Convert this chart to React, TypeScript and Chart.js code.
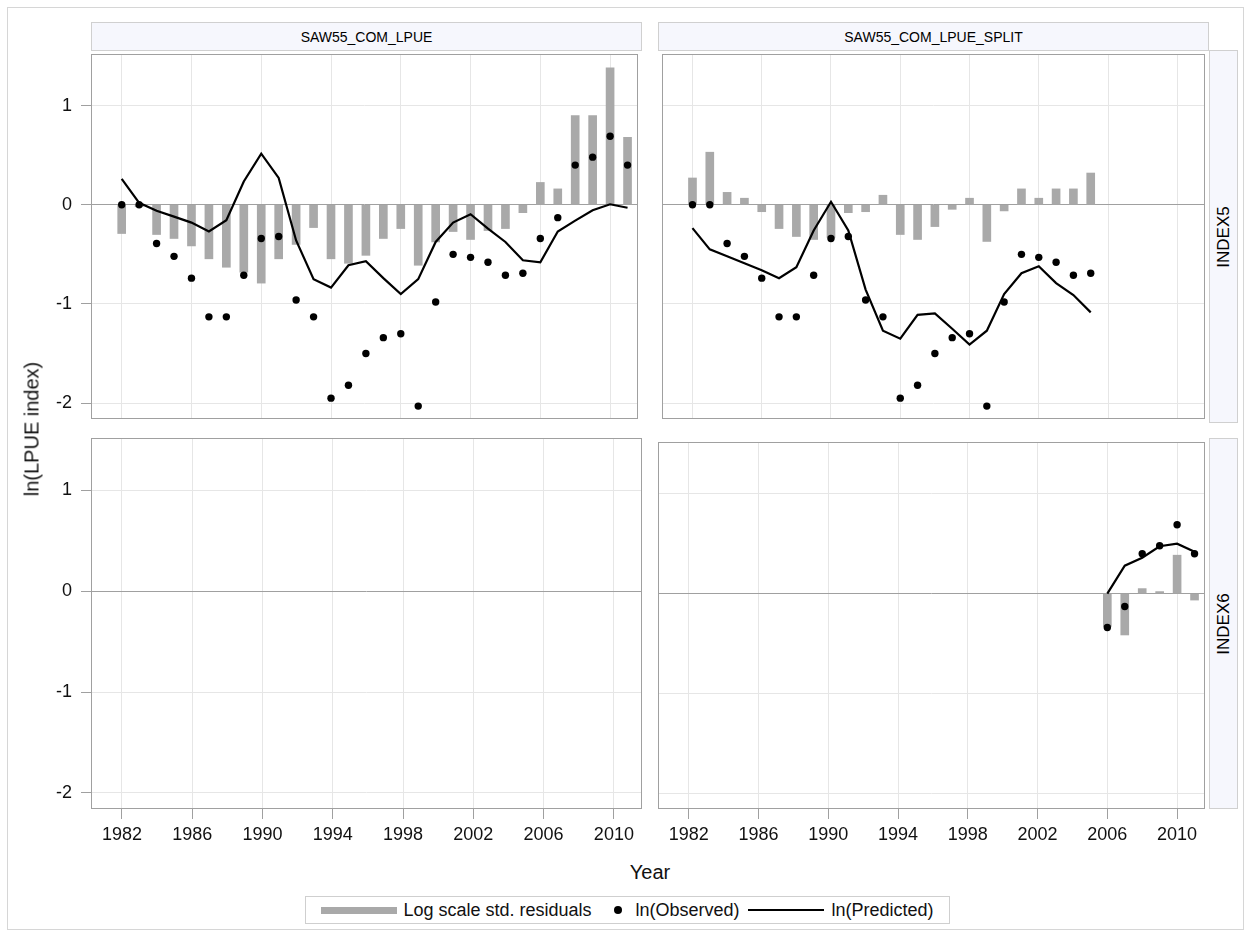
import React, { useEffect, useRef } from "react";
import { Chart, registerables } from "chart.js";

Chart.register(...registerables);

const FONT = "'Liberation Sans', Arial, sans-serif";

// ---------- data ----------
const yearsAll = [
  1982, 1983, 1984, 1985, 1986, 1987, 1988, 1989, 1990, 1991,
  1992, 1993, 1994, 1995, 1996, 1997, 1998, 1999, 2000, 2001,
  2002, 2003, 2004, 2005, 2006, 2007, 2008, 2009, 2010, 2011,
];
const obsLPUE = [
  0.0, 0.0, -0.39, -0.52, -0.74, -1.13, -1.13, -0.71, -0.34, -0.32,
  -0.96, -1.13, -1.95, -1.82, -1.5, -1.34, -1.3, -2.03, -0.98, -0.5,
  -0.53, -0.58, -0.71, -0.69, -0.34, -0.13, 0.4, 0.48, 0.69, 0.4,
];
const predLPUE = [
  0.26, 0.02, -0.06, -0.12, -0.18, -0.27, -0.155, 0.235, 0.515, 0.27,
  -0.36, -0.75, -0.835, -0.61, -0.57, -0.74, -0.9, -0.75, -0.375, -0.18,
  -0.095, -0.24, -0.375, -0.56, -0.58, -0.27, -0.16, -0.055, 0.005, -0.03,
];
const residLPUE = [
  -0.29, -0.02, -0.3, -0.34, -0.415, -0.545, -0.63, -0.68, -0.79, -0.545,
  -0.4, -0.23, -0.545, -0.59, -0.51, -0.34, -0.24, -0.61, -0.375, -0.27,
  -0.35, -0.26, -0.24, -0.08, 0.225, 0.16, 0.9, 0.9, 1.38, 0.68,
];

const yearsSplit5 = [
  1982, 1983, 1984, 1985, 1986, 1987, 1988, 1989, 1990, 1991,
  1992, 1993, 1994, 1995, 1996, 1997, 1998, 1999, 2000, 2001,
  2002, 2003, 2004, 2005,
];
const obsSplit5 = [
  0.0, 0.0, -0.39, -0.52, -0.74, -1.13, -1.13, -0.71, -0.34, -0.32,
  -0.96, -1.13, -1.95, -1.82, -1.5, -1.34, -1.3, -2.03, -0.98, -0.5,
  -0.53, -0.58, -0.71, -0.69,
];
const predSplit5 = [
  -0.235, -0.45, -0.52, -0.59, -0.66, -0.74, -0.63, -0.26, 0.03, -0.26,
  -0.855, -1.27, -1.35, -1.11, -1.095, -1.25, -1.41, -1.27, -0.9, -0.69,
  -0.62, -0.79, -0.91, -1.085,
];
const residSplit5 = [
  0.27, 0.53, 0.125, 0.066, -0.07, -0.24, -0.32, -0.35, -0.33, -0.08,
  -0.07, 0.096, -0.3, -0.35, -0.22, -0.046, 0.066, -0.37, -0.062, 0.16,
  0.066, 0.16, 0.16, 0.32,
];

const yearsSplit6 = [2006, 2007, 2008, 2009, 2010, 2011];
const obsSplit6 = [-0.34, -0.13, 0.4, 0.48, 0.69, 0.4];
const predSplit6 = [0.0, 0.28, 0.36, 0.475, 0.5, 0.42];
const residSplit6 = [-0.33, -0.415, 0.05, 0.02, 0.385, -0.065];

const xTickYears = [1982, 1986, 1990, 1994, 1998, 2002, 2006, 2010];
const yTickValues = [-2, -1, 0, 1];

const columnTitles = ["SAW55_COM_LPUE", "SAW55_COM_LPUE_SPLIT"];
const rowTitles = ["INDEX5", "INDEX6"];
const legendLabels = ["Log scale std. residuals", "ln(Observed)", "ln(Predicted)"];
const xAxisTitle = "Year";
const yAxisTitle = "ln(LPUE index)";

const X_MIN = 1980.24;
const X_MAX = 2011.6;
const Y_MIN = -2.16;
const Y_MAX = 1.52;

// ---------- styles ----------
const BAR_COLOR = "#a9a9a9";
const GRID_COLOR = "#e6e6e6";
const FRAME_COLOR = "#a0a0a0";
const HEADER_BG = "#f6f7fd";
const HEADER_BORDER = "#d0d0d0";
const CLEAR = "rgba(0,0,0,0)";

const framePlugin = {
  id: "frame",
  beforeDatasetsDraw(chart: any) {
    const { ctx, chartArea: a } = chart;
    ctx.save();
    ctx.strokeStyle = FRAME_COLOR;
    ctx.lineWidth = 1;
    ctx.strokeRect(a.left + 0.5, a.top + 0.5, a.right - a.left - 1, a.bottom - a.top - 1);
    ctx.restore();
  },
};

function zeroPad(s: any) {
  s.paddingTop = 0;
  s.paddingBottom = 0;
  s.paddingLeft = 0;
  s.paddingRight = 0;
}

type PanelProps = {
  left: number;
  top: number;
  width: number;
  height: number;
  yAxisW: number;
  xAxisH: number;
  hideY?: boolean;
  years?: number[];
  obs?: number[];
  pred?: number[];
  resid?: number[];
};

function Panel(p: PanelProps) {
  const ref = useRef<HTMLCanvasElement | null>(null);
  useEffect(() => {
    if (!ref.current) return;
    const datasets: any[] = [];
    if (p.years && p.obs && p.pred && p.resid) {
      const yrs = p.years;
      datasets.push({
        type: "bar",
        label: legendLabels[0],
        data: yrs.map((x, i) => ({ x, y: p.resid![i] })),
        backgroundColor: BAR_COLOR,
        borderWidth: 0,
        barThickness: 8,
        grouped: false,
        order: 3,
      });
      datasets.push({
        type: "line",
        label: legendLabels[2],
        data: yrs.map((x, i) => ({ x, y: p.pred![i] })),
        borderColor: "#000",
        borderWidth: 2.2,
        pointRadius: 0,
        tension: 0,
        fill: false,
        order: 2,
      });
      datasets.push({
        type: "line",
        label: legendLabels[1],
        data: yrs.map((x, i) => ({ x, y: p.obs![i] })),
        showLine: false,
        pointRadius: 3.7,
        pointBackgroundColor: "#000",
        pointBorderColor: "#000",
        pointBorderWidth: 0,
        order: 1,
      });
    }
    const showX = p.xAxisH > 0;
    const showY = p.yAxisW > 0;
    const hideY = !!p.hideY;
    const chart = new Chart(ref.current, {
      type: "bar",
      data: { datasets },
      options: {
        animation: false,
        responsive: false,
        maintainAspectRatio: false,
        layout: { padding: 0 },
        plugins: { legend: { display: false }, tooltip: { enabled: false } },
        scales: {
          x: {
            type: "linear",
            min: X_MIN,
            max: X_MAX,
            offset: false,
            afterBuildTicks: (s: any) => {
              s.ticks = xTickYears.map((v) => ({ value: v }));
            },
            afterFit: (s: any) => {
              s.height = p.xAxisH;
              zeroPad(s);
            },
            grid: {
              offset: false,
              color: GRID_COLOR,
              drawTicks: showX,
              tickLength: 10,
              tickColor: FRAME_COLOR,
            },
            border: { display: false },
            ticks: {
              display: showX,
              autoSkip: false,
              maxRotation: 0,
              padding: 5,
              color: "#111",
              font: { family: FONT, size: 18 },
              callback: (v: any) => String(v),
            },
          },
          y: {
            type: "linear",
            min: Y_MIN,
            max: Y_MAX,
            afterBuildTicks: (s: any) => {
              s.ticks = yTickValues.map((v) => ({ value: v }));
            },
            afterFit: (s: any) => {
              s.width = p.yAxisW;
              zeroPad(s);
            },
            grid: {
              color: (ctx: any) => (ctx.tick && ctx.tick.value === 0 ? FRAME_COLOR : GRID_COLOR),
              drawTicks: showY,
              tickLength: 10,
              tickColor: hideY ? CLEAR : FRAME_COLOR,
            },
            border: { display: false },
            ticks: {
              display: showY,
              padding: 9,
              color: hideY ? CLEAR : "#111",
              font: { family: FONT, size: 18 },
              callback: (v: any) => String(v),
            },
          },
        },
      } as any,
      plugins: [framePlugin],
    } as any);
    return () => chart.destroy();
  }, []);
  return (
    <canvas
      ref={ref}
      width={p.width}
      height={p.height}
      style={{ position: "absolute", left: p.left, top: p.top, width: p.width, height: p.height }}
    />
  );
}

const headerStyle: React.CSSProperties = {
  position: "absolute",
  background: HEADER_BG,
  border: `1px solid ${HEADER_BORDER}`,
  boxSizing: "border-box",
  display: "flex",
  alignItems: "center",
  justifyContent: "center",
  fontSize: 14,
  color: "#000",
  whiteSpace: "nowrap",
};

function Strip({ top, height, text }: { top: number; height: number; text: string }) {
  return (
    <div style={{ ...headerStyle, left: 1209, top, width: 29, height, fontSize: 17 }}>
      <div style={{ transform: "rotate(-90deg)", whiteSpace: "nowrap" }}>{text}</div>
    </div>
  );
}

export default function App() {
  return (
    <div
      style={{
        position: "absolute",
        left: 0,
        top: 0,
        width: 1251,
        height: 937,
        background: "#fff",
        fontFamily: FONT,
        overflow: "hidden",
      }}
    >
      <div
        style={{
          position: "absolute",
          left: 7,
          top: 7,
          width: 1237,
          height: 923,
          border: "1px solid #d6d6d6",
          boxSizing: "border-box",
        }}
      />
      <div style={{ ...headerStyle, left: 91, top: 22, width: 551, height: 29 }}>{columnTitles[0]}</div>
      <div style={{ ...headerStyle, left: 658, top: 22, width: 551, height: 29 }}>{columnTitles[1]}</div>
      <Strip top={50} height={373} text={rowTitles[0]} />
      <Strip top={438} height={371} text={rowTitles[1]} />

      <Panel left={40} top={50} width={602} height={373} yAxisW={51} xAxisH={0}
        years={yearsAll} obs={obsLPUE} pred={predLPUE} resid={residLPUE} />
      <Panel left={658} top={50} width={551} height={373} yAxisW={0} xAxisH={0}
        years={yearsSplit5} obs={obsSplit5} pred={predSplit5} resid={residSplit5} />
      <Panel left={40} top={438} width={602} height={421} yAxisW={51} xAxisH={50} />
      <Panel left={607} top={438} width={602} height={421} yAxisW={51} xAxisH={50} hideY
        years={yearsSplit6} obs={obsSplit6} pred={predSplit6} resid={residSplit6} />

      <div
        style={{
          position: "absolute",
          left: 32,
          top: 429,
          transform: "translate(-50%, -50%) rotate(-90deg)",
          fontSize: 20,
          color: "#111",
          whiteSpace: "nowrap",
        }}
      >
        {yAxisTitle}
      </div>
      <div
        style={{
          position: "absolute",
          left: 650,
          top: 872,
          transform: "translate(-50%, -50%)",
          fontSize: 20,
          color: "#111",
          whiteSpace: "nowrap",
        }}
      >
        {xAxisTitle}
      </div>

      <div
        style={{
          position: "absolute",
          left: 305,
          top: 896,
          width: 645,
          height: 28,
          border: "1px solid #cfcfcf",
          boxSizing: "border-box",
          display: "flex",
          alignItems: "center",
          justifyContent: "center",
          fontSize: 18,
          color: "#111",
          whiteSpace: "nowrap",
        }}
      >
        <span style={{ display: "inline-block", width: 76, height: 7, background: BAR_COLOR, marginRight: 6 }} />
        <span>{legendLabels[0]}</span>
        <span
          style={{ display: "inline-block", width: 8, height: 8, borderRadius: 4, background: "#000", marginLeft: 22, marginRight: 14 }}
        />
        <span>{legendLabels[1]}</span>
        <span style={{ display: "inline-block", width: 76, height: 2, background: "#000", marginLeft: 8, marginRight: 8 }} />
        <span>{legendLabels[2]}</span>
      </div>
    </div>
  );
}
